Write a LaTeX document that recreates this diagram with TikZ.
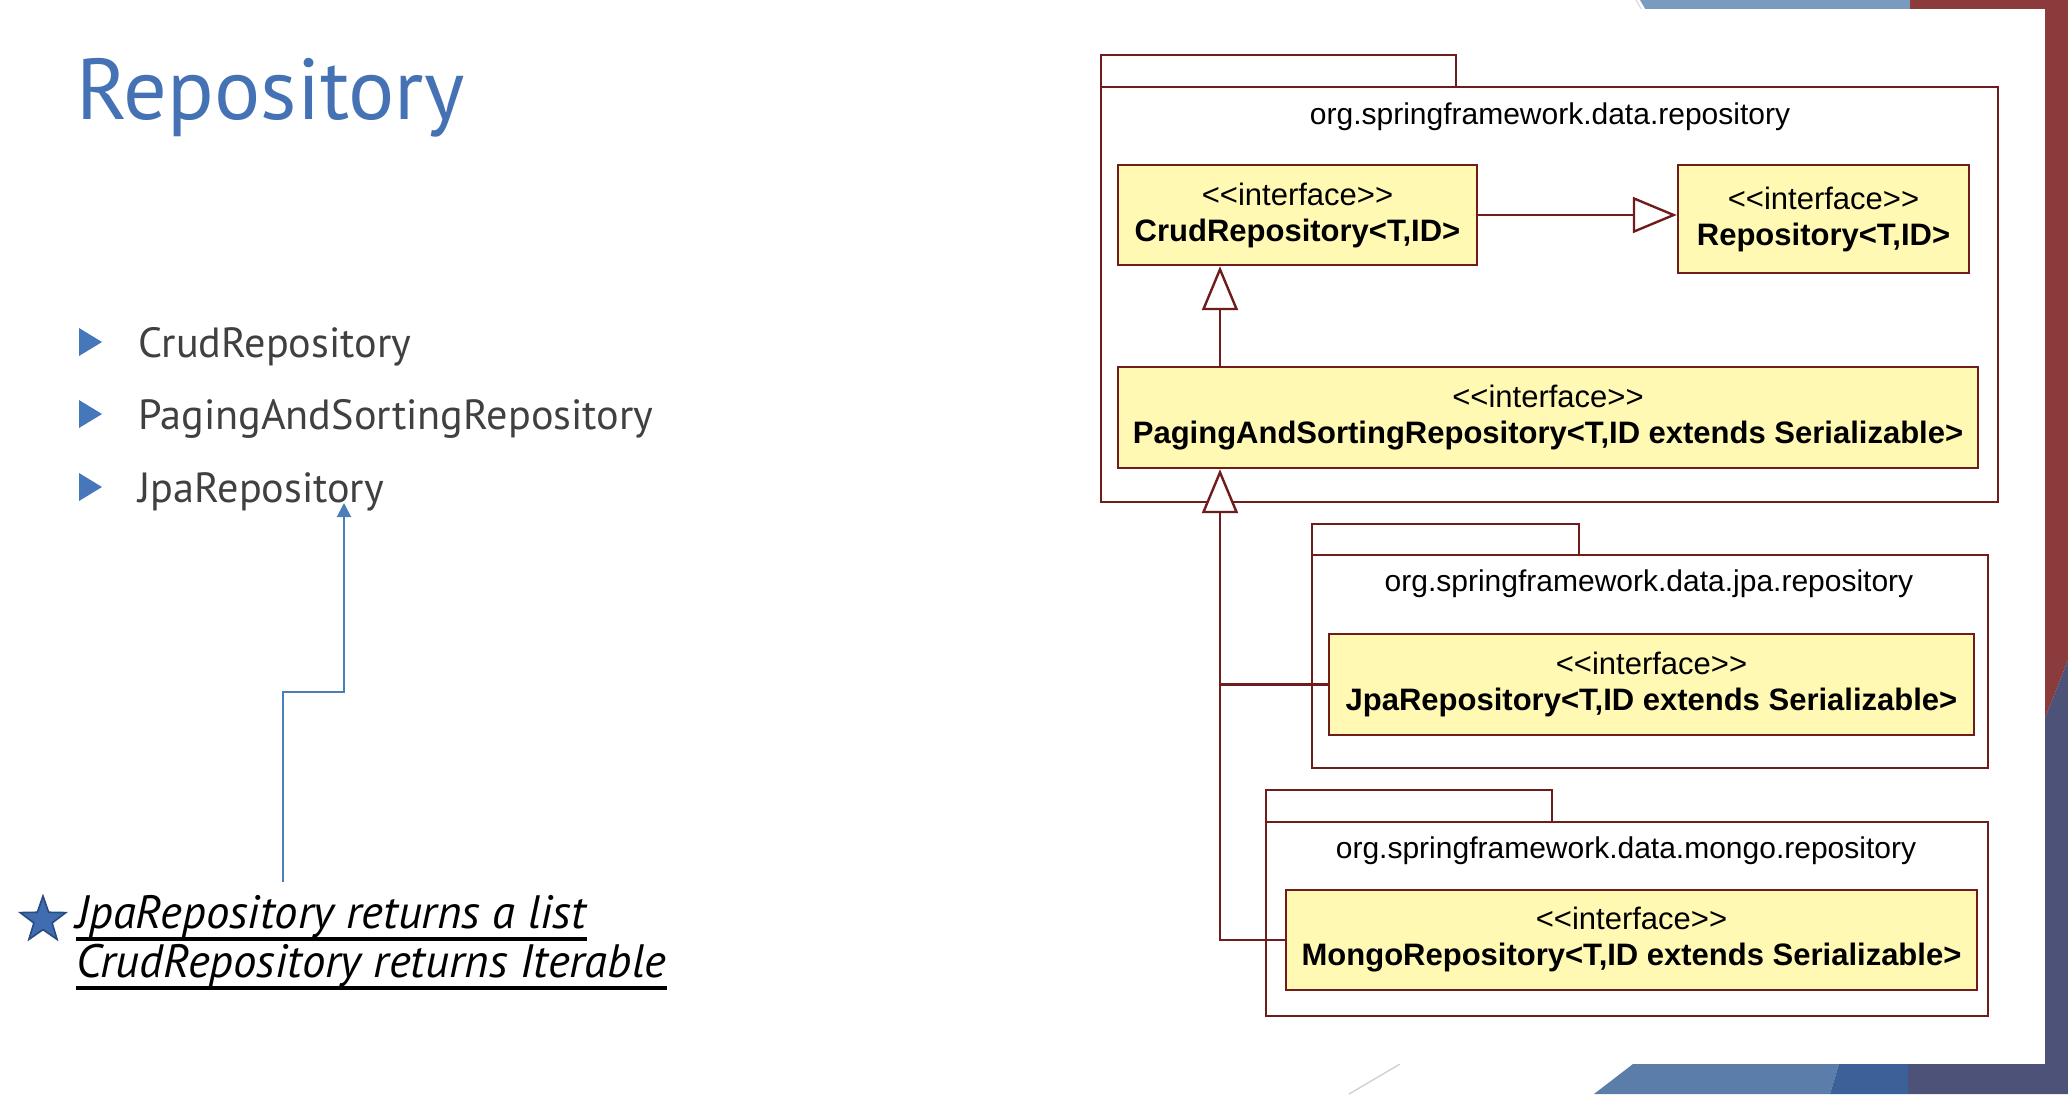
\documentclass[tikz,border=0pt]{standalone}
\usepackage{fontspec}
\setmainfont{PT Sans}
\newfontfamily\umlfont{Liberation Sans}
\usetikzlibrary{arrows.meta,shapes.geometric}
\definecolor{maroon}{HTML}{701C1C}
\definecolor{umlyellow}{HTML}{FFF9B4}
\definecolor{titleblue}{HTML}{4472B4}
\definecolor{bulletblue}{HTML}{4677BA}
\definecolor{textgrey}{HTML}{404040}
\definecolor{arrowblue}{HTML}{4A7EBB}
\definecolor{starblue}{HTML}{3F6DB0}
\definecolor{stardark}{HTML}{2A4B80}
\definecolor{decoblue}{HTML}{7B9AC0}
\definecolor{decored}{HTML}{8C3B3C}
\definecolor{decoslate}{HTML}{4D5279}
\definecolor{decoblueb}{HTML}{5A7DAA}
\definecolor{decodark}{HTML}{3C6199}
\tikzset{
  umlbox/.style={draw=maroon, line width=1.2pt, fill=umlyellow, inner sep=0pt, align=center,
    font=\umlfont\fontsize{15.5}{18}\selectfont},
  pkgline/.style={draw=maroon, line width=1.2pt},
  pkglabel/.style={inner sep=0pt, font=\umlfont\fontsize{15}{18}\selectfont, text=black},
  umlline/.style={draw=maroon, line width=1.2pt},
  gen/.style={umlline, -{Triangle[open, fill=white, length=22pt, width=18pt]}},
  bullettext/.style={anchor=base west, inner sep=0pt, text=textgrey, font=\fontsize{21.1}{25}\selectfont},
  notetext/.style={anchor=base west, inner sep=0pt, text=black, font=\itshape\fontsize{23.4}{27}\selectfont},
  bluearrow/.style={draw=arrowblue, line width=1pt, -{Triangle[length=7pt, width=7pt]}}
}
\begin{document}
\begin{tikzpicture}[x=0.5pt,y=-0.5pt]
\useasboundingbox (0,0) rectangle (2068,1094);
\fill[white] (0,0) rectangle (2068,1094);
% slide decorations
\fill[decoblue] (1640,0) -- (1910,0) -- (1910,12) -- (1647,12) -- cycle;
\draw[gray!30, line width=0.6pt] (1636,0) -- (1643,12);
\fill[decored] (1910,0) -- (2068,0) -- (2068,660) -- (2045,718) -- (2045,12) -- (1910,12) -- cycle;
\fill[decoslate] (2045,718) -- (2068,660) -- (2068,1094) -- (1908,1094) -- (1908,1064) -- (2045,1064) -- cycle;
\fill[decoblueb] (1633,1064) -- (1839,1064) -- (1830,1094) -- (1594,1094) -- cycle;
\fill[decodark] (1839,1064) -- (1908,1064) -- (1908,1094) -- (1830,1094) -- cycle;
\draw[gray!40, line width=0.6pt] (1349,1094) -- (1400,1064);
% screenshot panel
\fill[white] (1040,9) rectangle (2045,1064);

% title
\node[anchor=base west, inner sep=0pt, text=titleblue, font=\fontsize{43.2}{50}\selectfont] (title) at (76,119) {Repository};

% bullets
\fill[bulletblue] (79,328) -- (102,342) -- (79,356) -- cycle;
\fill[bulletblue] (79,400) -- (102,414) -- (79,428) -- cycle;
\fill[bulletblue] (79,473) -- (102,487) -- (79,501) -- cycle;
\node[bullettext] (b1) at (138,357) {CrudRepository};
\node[bullettext] (b2) at (138,429) {PagingAndSortingRepository};
\node[bullettext] (b3) at (138,502) {JpaRepository};

% note
\node[star, star points=5, star point ratio=2.5, minimum size=24pt, inner sep=0pt,
  fill=starblue, draw=stardark, line width=0.8pt] (star) at (43,920) {};
\node[notetext] (n1) at (76,928) {JpaRepository returns a list};
\node[notetext] (n2) at (76,977) {CrudRepository returns Iterable};
\draw[line width=1.7pt] ([yshift=-5.5pt]n1.base west) -- ([yshift=-5.5pt]n1.base east);
\draw[line width=1.7pt] ([yshift=-5.5pt]n2.base west) -- ([yshift=-5.5pt]n2.base east);

% blue connector
\coordinate (p0) at (283,882);
\coordinate (p1) at (283,692);
\coordinate (p2) at (344,692);
\coordinate (p3) at (344,503);
\draw[bluearrow] (p0) -- (p1) -- (p2) -- (p3);

% packages
\draw[pkgline] (1101,55) rectangle (1456,87);
\draw[pkgline] (1101,87) rectangle (1998,502);
\node[pkglabel] (pk1) at (1550,117) {org.springframework.data.repository};

\draw[pkgline] (1312,524) rectangle (1579,555);
\draw[pkgline] (1312,555) rectangle (1988,768);
\node[pkglabel] (pk2) at (1649,584) {org.springframework.data.jpa.repository};

\draw[pkgline] (1266,790) rectangle (1552,822);
\draw[pkgline] (1266,822) rectangle (1988,1016);
\node[pkglabel] (pk3) at (1626,851) {org.springframework.data.mongo.repository};

% interfaces
\node[umlbox, minimum width=179.5pt, minimum height=50pt] (crud) at (1297.5,215)
  {<\kern0pt<interface>\kern0pt>\\\textbf{CrudRepository<T,ID>}};
\node[umlbox, minimum width=145.5pt, minimum height=54pt] (repo) at (1823.5,219)
  {<\kern0pt<interface>\kern0pt>\\\textbf{Repository<T,ID>}};
\node[umlbox, minimum width=430pt, minimum height=50.5pt] (paging) at (1548,417.5)
  {<\kern0pt<interface>\kern0pt>\\\textbf{PagingAndSortingRepository<T,ID extends Serializable>}};
\node[umlbox, minimum width=322.5pt, minimum height=50.5pt] (jpa) at (1651.5,684.5)
  {<\kern0pt<interface>\kern0pt>\\\textbf{JpaRepository<T,ID extends Serializable>}};
\node[umlbox, minimum width=345.5pt, minimum height=50pt] (mongo) at (1631.5,940)
  {<\kern0pt<interface>\kern0pt>\\\textbf{MongoRepository<T,ID extends Serializable>}};

% generalizations
\coordinate (gx) at (1220,0);
\draw[gen] (crud.east) -- (crud.east -| repo.west);
\draw[gen] (gx |- paging.north) -- (gx |- crud.south);
\draw[umlline] (jpa.west) -- (gx |- jpa.west);
\draw[gen] (mongo.west) -| (gx |- paging.south);
\end{tikzpicture}
\end{document}
